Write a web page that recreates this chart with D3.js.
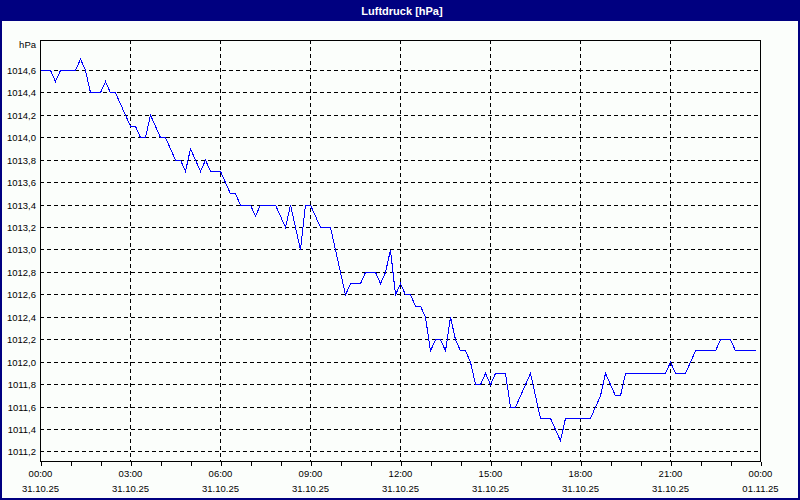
<!DOCTYPE html>
<html>
<head>
<meta charset="utf-8">
<script src="https://cdn.jsdelivr.net/npm/d3@7"></script>
<style>
  html, body { margin: 0; padding: 0; background: #000080; }
  svg { display: block; }
  text { font-family: "Liberation Sans", Arial, sans-serif; }
</style>
</head>
<body>
<svg id="chart" width="800" height="500"></svg>
<script>
// ---- data ----
const title = "Luftdruck [hPa]";
const unitLabel = "hPa";
const startTime = "2025-10-31T00:00:00";
const endTime = "2025-11-01T00:00:00";
const stepMinutes = 10;
const pressure = [
  1014.6, 1014.6, 1014.6, 1014.5, 1014.6, 1014.6, 1014.6, 1014.6, 1014.7, 1014.6,
  1014.4, 1014.4, 1014.4, 1014.5, 1014.4, 1014.4, 1014.3, 1014.2, 1014.1, 1014.1,
  1014.0, 1014.0, 1014.2, 1014.1, 1014.0, 1014.0, 1013.9, 1013.8, 1013.8, 1013.7,
  1013.9, 1013.8, 1013.7, 1013.8, 1013.7, 1013.7, 1013.7, 1013.6, 1013.5, 1013.5,
  1013.4, 1013.4, 1013.4, 1013.3, 1013.4, 1013.4, 1013.4, 1013.4, 1013.3, 1013.2,
  1013.4, 1013.2, 1013.0, 1013.4, 1013.4, 1013.3, 1013.2, 1013.2, 1013.2, 1013.0,
  1012.8, 1012.6, 1012.7, 1012.7, 1012.7, 1012.8, 1012.8, 1012.8, 1012.7, 1012.8,
  1013.0, 1012.6, 1012.7, 1012.6, 1012.6, 1012.5, 1012.5, 1012.4, 1012.1, 1012.2,
  1012.2, 1012.1, 1012.4, 1012.2, 1012.1, 1012.1, 1012.0, 1011.8, 1011.8, 1011.9,
  1011.8, 1011.9, 1011.9, 1011.9, 1011.6, 1011.6, 1011.7, 1011.8, 1011.9, 1011.7,
  1011.5, 1011.5, 1011.5, 1011.4, 1011.3, 1011.5, 1011.5, 1011.5, 1011.5, 1011.5,
  1011.5, 1011.6, 1011.7, 1011.9, 1011.8, 1011.7, 1011.7, 1011.9, 1011.9, 1011.9,
  1011.9, 1011.9, 1011.9, 1011.9, 1011.9, 1011.9, 1012.0, 1011.9, 1011.9, 1011.9,
  1012.0, 1012.1, 1012.1, 1012.1, 1012.1, 1012.1, 1012.2, 1012.2, 1012.2, 1012.1,
  1012.1, 1012.1, 1012.1, 1012.1
];
const yTicks = [1011.2, 1011.4, 1011.6, 1011.8, 1012.0, 1012.2, 1012.4, 1012.6, 1012.8,
                1013.0, 1013.2, 1013.4, 1013.6, 1013.8, 1014.0, 1014.2, 1014.4, 1014.6];
const xLabelHours = [0, 3, 6, 9, 12, 15, 18, 21, 24];
const timeLabels = ["00:00", "03:00", "06:00", "09:00", "12:00", "15:00", "18:00", "21:00", "00:00"];
const dateLabels = ["31.10.25", "31.10.25", "31.10.25", "31.10.25", "31.10.25", "31.10.25", "31.10.25", "31.10.25", "01.11.25"];
const yDomain = [1011.115, 1014.87];

// ---- layout ----
const W = 800, H = 500;
const plot = { left: 40, right: 760, top: 40, bottom: 461.5 };
const svg = d3.select("#chart");

// window frame
svg.append("rect").attr("x", 0).attr("y", 0).attr("width", W).attr("height", H).attr("fill", "#000080");
svg.append("rect").attr("x", 2).attr("y", 21).attr("width", 796).attr("height", 477).attr("fill", "#fbfefb");
svg.append("text").attr("x", 402).attr("y", 15).attr("text-anchor", "middle")
  .attr("fill", "#ffffff").attr("font-size", "11px").attr("font-weight", "bold").text(title);

const t0 = new Date(startTime), t1 = new Date(endTime);
const x = d3.scaleTime().domain([t0, t1]).range([plot.left, plot.right]);
const y = d3.scaleLinear().domain(yDomain).range([plot.bottom, plot.top]);
const crisp = v => Math.floor(v) + 0.5;

const data = pressure.map((v, i) => ({ t: new Date(t0.getTime() + i * stepMinutes * 60000), v }));

// horizontal dashed gridlines
svg.append("g").selectAll("line").data(yTicks).join("line")
  .attr("x1", plot.left).attr("x2", plot.right)
  .attr("y1", d => crisp(y(d))).attr("y2", d => crisp(y(d)))
  .attr("stroke", "#000").attr("stroke-width", 1).attr("stroke-dasharray", "4,3")
  .attr("shape-rendering", "crispEdges");

// vertical dashed gridlines (every 3h, interior)
const hourDate = h => new Date(t0.getTime() + h * 3600000);
svg.append("g").selectAll("line").data(xLabelHours.filter(h => h > 0 && h < 24)).join("line")
  .attr("x1", d => crisp(x(hourDate(d)))).attr("x2", d => crisp(x(hourDate(d))))
  .attr("y1", plot.top).attr("y2", plot.bottom)
  .attr("stroke", "#000").attr("stroke-width", 1).attr("stroke-dasharray", "4,3")
  .attr("shape-rendering", "crispEdges");

// bottom axis with hourly ticks
const xAxis = d3.axisBottom(x).ticks(d3.timeHour.every(1)).tickSize(4).tickFormat("");
const gx = svg.append("g").attr("transform", `translate(0.5,${crisp(plot.bottom)})`).call(xAxis);
gx.select(".domain").remove();
gx.selectAll("line").attr("stroke", "#000").attr("shape-rendering", "crispEdges");

// plot frame
svg.append("rect").attr("x", crisp(plot.left)).attr("y", crisp(plot.top))
  .attr("width", plot.right - plot.left).attr("height", Math.floor(plot.bottom) - plot.top)
  .attr("fill", "none").attr("stroke", "#000").attr("stroke-width", 1).attr("shape-rendering", "crispEdges");

// y labels
svg.append("g").selectAll("text").data(yTicks).join("text")
  .attr("x", 36).attr("y", d => y(d) + 3.5).attr("text-anchor", "end")
  .attr("font-size", "9.5px").attr("fill", "#000")
  .text(d => d.toFixed(1).replace(".", ","));
svg.append("text").attr("x", 36).attr("y", 48).attr("text-anchor", "end")
  .attr("font-size", "9.5px").attr("fill", "#000").text(unitLabel);

// x labels
const xl = svg.append("g");
xl.selectAll("text.time").data(xLabelHours).join("text").attr("class", "time")
  .attr("x", d => x(hourDate(d)) + 0.5).attr("y", 477).attr("text-anchor", "middle")
  .attr("font-size", "9.5px").attr("fill", "#000").text((d, i) => timeLabels[i]);
xl.selectAll("text.date").data(xLabelHours).join("text").attr("class", "date")
  .attr("x", d => x(hourDate(d)) + 0.5).attr("y", 492).attr("text-anchor", "middle")
  .attr("font-size", "9.5px").attr("fill", "#000").text((d, i) => dateLabels[i]);

// line
const line = d3.line().x(d => x(d.t) + 0.5).y(d => y(d.v));
svg.append("path").datum(data).attr("d", line)
  .attr("fill", "none").attr("stroke", "#0000ff").attr("stroke-width", 1)
  .attr("shape-rendering", "crispEdges");
</script>
</body>
</html>
